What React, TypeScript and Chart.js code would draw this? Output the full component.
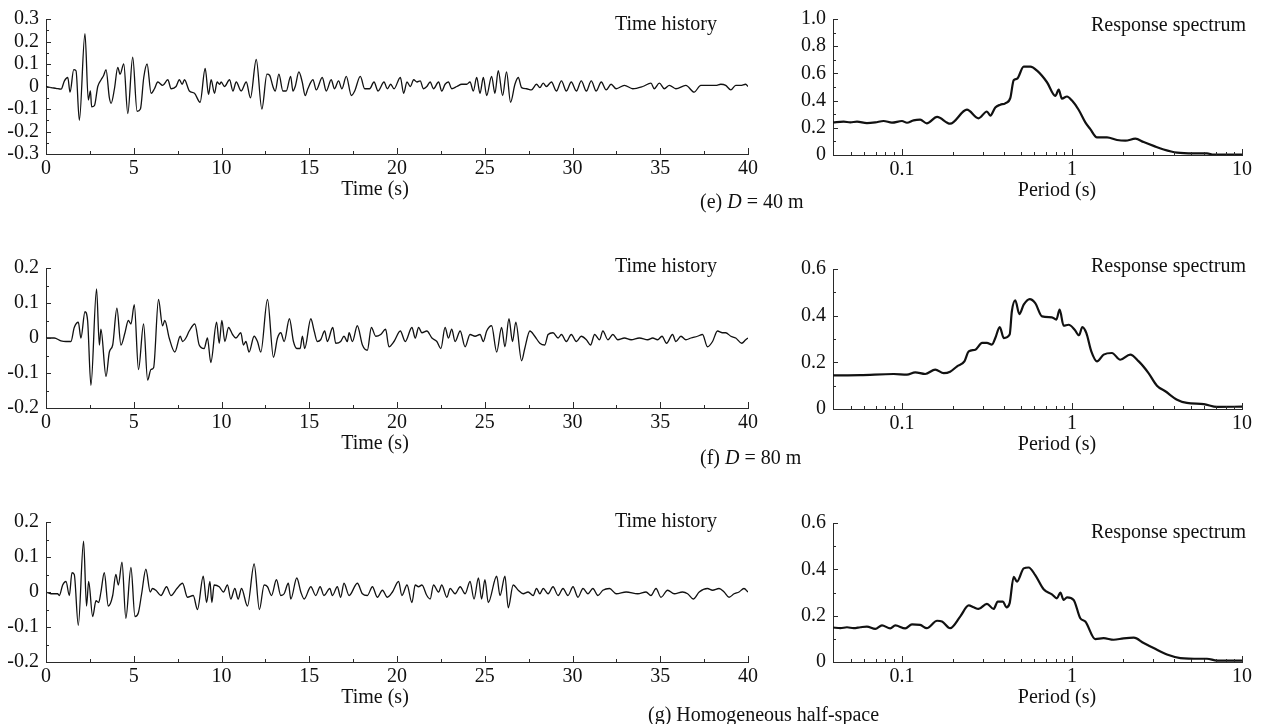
import React, { useEffect, useRef } from "react";
import { Chart, registerables } from "chart.js";

Chart.register(...registerables);

type Pt = [number, number];

const FONT = '"Liberation Serif", "Times New Roman", Times, serif';
const AXIS = "#2a2a2a";
const INK = "#111";

// ---------- data (time in s, acceleration in g) ----------
const historyE: Pt[] = [
  [0, 0], [0.29, -0.005], [0.57, -0.008], [0.86, -0.012], [1.05, 0.025], [1.24, 0.04], [1.37, -0.025],
  [1.58, 0.075], [1.71, 0.07], [1.9, -0.15], [2.22, 0.235], [2.41, -0.06], [2.53, -0.02], [2.6, -0.09],
  [2.76, -0.085], [2.95, 0.0], [3.14, 0.03], [3.29, 0.05], [3.42, 0.075], [3.61, -0.05], [3.71, -0.075],
  [3.9, -0.01], [4.09, 0.085], [4.22, 0.055], [4.43, 0.1], [4.66, -0.12], [4.94, 0.13], [5.19, -0.11],
  [5.38, -0.1], [5.57, 0.04], [5.76, 0.1], [5.99, -0.03], [6.18, -0.01], [6.37, 0.02], [6.65, 0.005],
  [6.94, 0.03], [7.13, -0.01], [7.41, 0.0], [7.6, 0.03], [7.76, 0.01], [7.89, 0.03], [8.17, -0.02],
  [8.46, -0.03], [8.78, -0.07], [9.07, 0.08], [9.26, -0.035], [9.41, 0.03], [9.6, -0.03], [9.75, 0.02],
  [9.89, 0.01], [9.98, 0.02], [10.17, 0.0], [10.46, 0.03], [10.65, -0.02], [10.84, 0.02], [11.12, -0.02],
  [11.41, 0.02], [11.65, -0.05], [11.98, 0.12], [12.3, -0.1], [12.59, 0.055], [12.74, 0.05], [12.93, 0.0],
  [13.06, -0.02], [13.27, 0.055], [13.5, -0.02], [13.69, -0.02], [13.94, 0.045], [14.07, -0.02], [14.2, 0.0],
  [14.41, 0.065], [14.6, 0.02], [14.77, -0.04], [14.92, -0.01], [15.21, 0.03], [15.4, -0.015], [15.74, 0.04],
  [15.97, -0.02], [16.25, 0.03], [16.44, -0.01], [16.67, 0.025], [16.86, -0.01], [17.11, 0.045], [17.4, -0.04],
  [17.59, -0.02], [17.91, 0.045], [18.16, -0.01], [18.44, -0.01], [18.69, 0.02], [18.92, -0.02], [19.26, 0.02],
  [19.45, -0.01], [19.64, 0.01], [19.83, -0.01], [20.19, 0.04], [20.38, -0.03], [20.57, 0.02], [20.76, 0.0],
  [20.95, 0.03], [21.14, 0.02], [21.32, 0.025], [21.51, -0.01], [21.7, 0.0], [21.89, 0.02], [22.08, -0.01],
  [22.37, 0.02], [22.55, -0.02], [22.74, 0.01], [22.93, 0.02], [23.12, -0.01], [23.41, 0.0], [23.69, 0.01],
  [23.97, 0.01], [24.16, 0.02], [24.35, -0.02], [24.54, 0.04], [24.73, -0.03], [24.92, 0.04], [25.11, -0.04],
  [25.39, 0.045], [25.58, -0.03], [25.77, 0.07], [26.02, -0.04], [26.24, 0.065], [26.47, -0.07], [26.72, 0.01],
  [26.91, 0.04], [27.1, -0.005], [27.38, -0.01], [27.66, -0.015], [27.95, 0.01], [28.14, -0.005], [28.33, 0.015],
  [28.51, 0.0], [28.8, 0.02], [29.08, -0.02], [29.37, 0.025], [29.65, -0.02], [29.93, 0.02], [30.22, -0.02],
  [30.5, 0.025], [30.79, -0.02], [31.07, 0.025], [31.35, -0.02], [31.64, 0.02], [31.92, -0.015], [32.2, 0.01],
  [32.49, -0.01], [32.96, 0.005], [33.43, -0.01], [34.0, 0.0], [34.47, 0.015], [34.66, -0.01], [34.95, 0.015],
  [35.23, -0.01], [35.52, 0.005], [35.89, -0.01], [36.46, 0.005], [36.93, -0.025], [37.31, 0.005], [37.79, 0.005],
  [38.16, 0.005], [38.45, 0.01], [38.73, 0.005], [39.02, -0.015], [39.3, 0.005], [39.58, 0.005], [39.87, 0.01],
  [40, 0.0],
];

const historyF: Pt[] = [
  [0, 0], [0.47, 0.0], [0.85, -0.008], [1.14, -0.01], [1.42, -0.01], [1.61, 0.03], [1.84, 0.045], [1.99, 0.0],
  [2.22, 0.075], [2.37, 0.05], [2.56, -0.135], [2.88, 0.14], [3.04, -0.02], [3.13, 0.025], [3.42, -0.11],
  [3.61, -0.04], [3.8, -0.02], [4.04, 0.085], [4.27, -0.02], [4.5, 0.015], [4.69, 0.05], [4.84, 0.04],
  [5.03, 0.095], [5.27, -0.09], [5.56, 0.04], [5.79, -0.12], [5.98, -0.09], [6.13, -0.085], [6.41, 0.11],
  [6.64, 0.035], [6.77, 0.05], [7.02, 0.0], [7.34, -0.04], [7.65, 0.005], [7.78, -0.01], [7.97, 0.0],
  [8.16, 0.02], [8.48, 0.04], [8.73, -0.02], [9.01, -0.03], [9.2, 0.0], [9.39, -0.07], [9.72, 0.045],
  [9.87, -0.015], [10.02, 0.05], [10.19, -0.01], [10.4, 0.03], [10.63, 0.01], [10.82, 0.0], [11.1, 0.015],
  [11.25, -0.02], [11.39, -0.01], [11.57, -0.04], [11.86, 0.005], [12.05, -0.01], [12.24, -0.04], [12.62, 0.11],
  [12.96, -0.055], [13.19, 0.0], [13.38, 0.015], [13.57, -0.01], [13.87, 0.055], [14.1, -0.01], [14.29, -0.03],
  [14.48, -0.03], [14.61, 0.005], [14.74, -0.03], [15.09, 0.055], [15.28, 0.02], [15.46, -0.01], [15.65, -0.005],
  [15.88, 0.02], [16.03, -0.01], [16.34, 0.03], [16.51, -0.015], [16.79, -0.01], [16.98, 0.005], [17.17, -0.01],
  [17.27, 0.015], [17.46, -0.01], [17.74, 0.035], [18.03, -0.02], [18.31, -0.035], [18.54, 0.03], [18.79, 0.005],
  [19.07, 0.01], [19.35, 0.025], [19.54, -0.025], [19.83, -0.01], [20.19, 0.02], [20.47, -0.01], [20.85, 0.03],
  [21.04, 0.0], [21.23, 0.03], [21.42, 0.015], [21.7, 0.02], [21.99, 0.0], [22.27, -0.01], [22.5, -0.03],
  [22.74, 0.03], [22.93, 0.0], [23.12, 0.025], [23.31, -0.01], [23.6, 0.02], [23.88, -0.025], [24.16, 0.01],
  [24.45, 0.005], [24.73, 0.01], [24.92, -0.01], [25.11, 0.02], [25.39, 0.035], [25.68, -0.04], [25.96, 0.03],
  [26.15, -0.025], [26.38, 0.055], [26.58, -0.01], [26.77, 0.045], [27.1, -0.065], [27.28, -0.03], [27.57, 0.02],
  [27.85, 0.005], [28.14, -0.015], [28.42, -0.02], [28.61, 0.01], [28.89, 0.015], [29.18, 0.0], [29.37, 0.01],
  [29.65, -0.01], [29.93, 0.01], [30.22, -0.01], [30.5, 0.005], [30.79, -0.005], [31.03, -0.02], [31.26, 0.01],
  [31.54, -0.005], [31.73, 0.02], [32.02, -0.005], [32.3, 0.01], [32.58, -0.005], [32.96, 0.0], [33.34, -0.005],
  [33.81, 0.0], [34.29, -0.005], [34.57, 0.0], [34.85, -0.005], [35.1, 0.005], [35.36, -0.015], [35.7, 0.01],
  [35.89, -0.01], [36.18, 0.005], [36.46, -0.005], [36.75, 0.0], [37.12, 0.005], [37.41, 0.01], [37.69, -0.025],
  [37.98, -0.01], [38.26, 0.02], [38.54, 0.015], [38.73, 0.015], [39.02, 0.005], [39.3, 0.0], [39.64, -0.015],
  [39.87, -0.005], [40, 0.0],
];

const historyG: Pt[] = [
  [0, 0], [0.28, -0.005], [0.66, -0.005], [0.76, -0.01], [0.95, 0.02], [1.14, 0.03], [1.33, -0.01],
  [1.48, 0.055], [1.61, 0.05], [1.84, -0.095], [2.14, 0.145], [2.31, -0.04], [2.43, 0.03], [2.66, -0.07],
  [2.85, -0.025], [3.0, -0.03], [3.13, 0.0], [3.32, 0.055], [3.55, -0.04], [3.8, -0.01], [3.98, 0.05],
  [4.12, 0.02], [4.33, 0.085], [4.55, -0.075], [4.84, 0.07], [5.07, -0.07], [5.26, -0.06], [5.45, -0.005],
  [5.69, 0.065], [5.94, 0.0], [6.07, 0.01], [6.26, 0.005], [6.55, -0.01], [6.87, 0.015], [7.12, -0.01],
  [7.46, 0.01], [7.78, 0.025], [8.06, -0.015], [8.39, -0.01], [8.63, -0.05], [8.96, 0.045], [9.15, -0.03],
  [9.34, 0.03], [9.45, -0.03], [9.58, 0.02], [9.87, 0.015], [10.11, 0.0], [10.34, 0.02], [10.53, -0.02],
  [10.76, 0.01], [10.95, -0.02], [11.14, 0.01], [11.48, -0.04], [11.86, 0.08], [12.16, -0.05], [12.43, 0.02],
  [12.62, 0.015], [12.85, -0.01], [13.13, 0.035], [13.38, -0.01], [13.57, -0.005], [13.81, 0.025], [13.95, -0.02],
  [14.29, 0.04], [14.52, 0.0], [14.71, -0.02], [15.09, 0.015], [15.37, -0.01], [15.62, 0.015], [15.84, -0.01],
  [16.17, 0.01], [16.32, -0.01], [16.6, 0.015], [16.79, -0.015], [16.98, 0.025], [17.27, -0.01], [17.74, 0.025],
  [18.03, -0.005], [18.31, -0.01], [18.6, 0.015], [18.88, -0.015], [19.17, 0.005], [19.45, -0.015], [19.74, 0.0],
  [20.09, 0.03], [20.28, -0.01], [20.57, 0.02], [20.85, -0.03], [21.04, 0.02], [21.23, 0.015], [21.42, 0.02],
  [21.7, -0.01], [21.89, -0.02], [22.08, 0.02], [22.37, 0.0], [22.55, 0.02], [22.84, -0.015], [23.03, 0.01],
  [23.31, -0.005], [23.6, 0.015], [23.88, -0.005], [24.16, 0.03], [24.39, -0.02], [24.64, 0.04], [24.82, -0.02],
  [25.01, 0.035], [25.2, -0.03], [25.68, 0.045], [25.87, -0.01], [26.15, 0.045], [26.34, -0.045], [26.62, 0.02],
  [26.91, 0.005], [27.19, -0.005], [27.47, 0.0], [27.76, -0.01], [27.95, 0.01], [28.14, -0.005], [28.33, 0.01],
  [28.61, -0.005], [28.89, 0.015], [29.18, -0.01], [29.46, 0.01], [29.74, -0.01], [30.03, 0.015], [30.31, -0.015],
  [30.6, 0.01], [30.88, -0.005], [31.16, 0.01], [31.45, -0.01], [31.73, 0.005], [32.11, 0.01], [32.49, -0.005],
  [33.06, 0.0], [33.72, -0.005], [34.19, 0.0], [34.47, -0.01], [34.76, 0.01], [35.04, -0.015], [35.42, 0.005],
  [35.8, -0.005], [36.27, 0.0], [36.56, -0.005], [36.88, -0.02], [37.22, 0.0], [37.69, 0.01], [37.98, 0.005],
  [38.35, 0.01], [38.64, 0.0], [38.92, -0.015], [39.21, -0.005], [39.49, 0.0], [39.77, 0.01], [40, 0.0],
];

// ---------- response spectra (period in s, Sa in g) ----------
const spectrumE: Pt[] = [
  [0.0393, 0.24], [0.0454, 0.245], [0.0497, 0.24], [0.0544, 0.245], [0.0622, 0.235], [0.0697, 0.24],
  [0.078, 0.25], [0.0873, 0.238], [0.1, 0.25], [0.107, 0.237], [0.117, 0.255], [0.128, 0.26], [0.14, 0.233],
  [0.161, 0.28], [0.192, 0.23], [0.241, 0.333], [0.282, 0.27], [0.316, 0.32], [0.331, 0.29], [0.354, 0.35],
  [0.379, 0.37], [0.405, 0.38], [0.434, 0.42], [0.454, 0.55], [0.475, 0.56], [0.52, 0.65], [0.569, 0.65],
  [0.623, 0.62], [0.713, 0.535], [0.798, 0.435], [0.835, 0.48], [0.873, 0.415], [0.935, 0.43], [1.0, 0.4],
  [1.094, 0.333], [1.198, 0.24], [1.282, 0.19], [1.403, 0.13], [1.607, 0.13], [1.841, 0.11], [2.06, 0.105],
  [2.36, 0.12], [2.64, 0.095], [3.02, 0.067], [3.46, 0.04], [4.15, 0.017], [5.2, 0.012], [6.22, 0.012],
  [6.81, 0.003], [10, 0.003],
];

const spectrumF: Pt[] = [
  [0.0393, 0.144], [0.0569, 0.145], [0.0893, 0.15], [0.107, 0.147], [0.1197, 0.157], [0.137, 0.15],
  [0.157, 0.169], [0.176, 0.154], [0.192, 0.16], [0.211, 0.183], [0.233, 0.204], [0.247, 0.247], [0.27, 0.254],
  [0.296, 0.283], [0.316, 0.283], [0.338, 0.276], [0.354, 0.304], [0.376, 0.351], [0.397, 0.304], [0.43, 0.319],
  [0.443, 0.419], [0.464, 0.466], [0.49, 0.407], [0.52, 0.447], [0.564, 0.471], [0.608, 0.454], [0.667, 0.397],
  [0.762, 0.393], [0.809, 0.383], [0.846, 0.426], [0.893, 0.357], [0.955, 0.361], [1.037, 0.34], [1.099, 0.316],
  [1.151, 0.351], [1.214, 0.326], [1.299, 0.247], [1.403, 0.204], [1.535, 0.233], [1.718, 0.24], [1.923, 0.211],
  [2.2, 0.233], [2.47, 0.204], [2.82, 0.154], [3.16, 0.1], [3.54, 0.076], [4.15, 0.04], [4.74, 0.026],
  [5.96, 0.021], [7.13, 0.009], [10, 0.01],
];

const spectrumG: Pt[] = [
  [0.0393, 0.149], [0.0434, 0.146], [0.0475, 0.15], [0.052, 0.146], [0.0569, 0.15], [0.0622, 0.153],
  [0.0697, 0.143], [0.0763, 0.158], [0.0853, 0.145], [0.0914, 0.158], [0.1046, 0.145], [0.1145, 0.162],
  [0.128, 0.16], [0.14, 0.146], [0.161, 0.178], [0.172, 0.175], [0.192, 0.146], [0.22, 0.196], [0.247, 0.244],
  [0.264, 0.236], [0.282, 0.229], [0.316, 0.251], [0.346, 0.229], [0.366, 0.261], [0.393, 0.261], [0.411, 0.236],
  [0.43, 0.254], [0.454, 0.368], [0.475, 0.347], [0.52, 0.404], [0.556, 0.408], [0.608, 0.375], [0.681, 0.314],
  [0.762, 0.292], [0.816, 0.275], [0.854, 0.3], [0.893, 0.268], [0.935, 0.279], [1.023, 0.268], [1.119, 0.189],
  [1.198, 0.175], [1.371, 0.099], [1.535, 0.103], [1.758, 0.096], [2.01, 0.102], [2.31, 0.105], [2.64, 0.082],
  [3.02, 0.06], [3.62, 0.032], [4.34, 0.017], [5.69, 0.014], [6.22, 0.014], [7.13, 0.006], [10, 0.006],
];

// ---------- ticks ----------
const timeMajor = [0, 5, 10, 15, 20, 25, 30, 35, 40];
const timeMinor = [2.5, 7.5, 12.5, 17.5, 22.5, 27.5, 32.5, 37.5];
const periodMajor = [0.1, 1, 10];
const periodMinor = [0.05, 0.06, 0.07, 0.08, 0.09, 0.2, 0.3, 0.4, 0.5, 0.6, 0.7, 0.8, 0.9, 2, 3, 4, 5, 6, 7, 8, 9];
const accMajor3 = [-0.3, -0.2, -0.1, 0, 0.1, 0.2, 0.3];
const accMinor3 = [-0.25, -0.15, -0.05, 0.05, 0.15, 0.25];
const accMajor2 = [-0.2, -0.1, 0, 0.1, 0.2];
const accMinor2 = [-0.15, -0.05, 0.05, 0.15];
const saMajor10 = [0, 0.2, 0.4, 0.6, 0.8, 1.0];
const saMinor10 = [0.1, 0.3, 0.5, 0.7, 0.9];
const saMajor6 = [0, 0.2, 0.4, 0.6];
const saMinor6 = [0.1, 0.3, 0.5];

interface PanelSpec {
  id: string;
  kind: "time" | "spec";
  data: Pt[];
  box: { x: number; y: number; w: number; h: number };
  area: { l: number; t: number; r: number; b: number };
  xMin: number; xMax: number; xMajor: number[]; xMinor: number[];
  yMin: number; yMax: number; yMajor: number[]; yMinor: number[];
  title: string; titleRight: number; titleY: number;
  axisTitle: string; axisTitleX: number;
  lineWidth: number;
}

const rowTops = [0, 240, 495];

function timePanel(id: string, data: Pt[], row: number, t: number, b: number, lim: number,
  yMajor: number[], yMinor: number[], titleY: number): PanelSpec {
  const top = rowTops[row];
  return {
    id, kind: "time", data,
    box: { x: 0, y: top, w: 780, h: b - top + 54 },
    area: { l: 46, t, r: 748, b },
    xMin: 0, xMax: 40, xMajor: timeMajor, xMinor: timeMinor,
    yMin: -lim, yMax: lim, yMajor, yMinor,
    title: "Time history", titleRight: 717, titleY,
    axisTitle: "Time (s)", axisTitleX: 375, lineWidth: 1.3,
  };
}

function specPanel(id: string, data: Pt[], row: number, t: number, b: number, lim: number,
  yMajor: number[], yMinor: number[], titleY: number): PanelSpec {
  const top = rowTops[row];
  return {
    id, kind: "spec", data,
    box: { x: 780, y: top, w: 508, h: b - top + 54 },
    area: { l: 833, t, r: 1242, b },
    xMin: 0.0393, xMax: 10, xMajor: periodMajor, xMinor: periodMinor,
    yMin: 0, yMax: lim, yMajor, yMinor,
    title: "Response spectrum", titleRight: 1246, titleY,
    axisTitle: "Period (s)", axisTitleX: 1057, lineWidth: 2.2,
  };
}

const panels: PanelSpec[] = [
  timePanel("tE", historyE, 0, 15, 154, 0.3, accMajor3, accMinor3, 25),
  specPanel("sE", spectrumE, 0, 15, 155, 1.0, saMajor10, saMinor10, 26),
  timePanel("tF", historyF, 1, 268, 408, 0.2, accMajor2, accMinor2, 267),
  specPanel("sF", spectrumF, 1, 269, 409, 0.6, saMajor6, saMinor6, 267),
  timePanel("tG", historyG, 2, 522, 662, 0.2, accMajor2, accMinor2, 522),
  specPanel("sG", spectrumG, 2, 523, 662, 0.6, saMajor6, saMinor6, 533),
];

const fmtY = (v: number) => (Math.abs(v) < 1e-9 ? "0" : v.toFixed(1));
const fmtX = (v: number) => String(v);

function Panel({ spec }: { spec: PanelSpec }) {
  const ref = useRef<HTMLCanvasElement | null>(null);
  useEffect(() => {
    const s = spec;
    const canvas = ref.current;
    if (!canvas) return;
    const decor = {
      id: "decor",
      afterDraw(chart: any) {
        const { ctx, chartArea: a } = chart;
        const xs = chart.scales.x;
        const ys = chart.scales.y;
        ctx.save();
        ctx.strokeStyle = AXIS;
        ctx.lineWidth = 1;
        ctx.beginPath();
        const xt = (vals: number[], len: number) =>
          vals.forEach((v) => {
            const px = Math.round(xs.getPixelForValue(v)) + 0.5;
            ctx.moveTo(px, a.bottom);
            ctx.lineTo(px, a.bottom - len);
          });
        const yt = (vals: number[], len: number) =>
          vals.forEach((v) => {
            const py = Math.round(ys.getPixelForValue(v)) + 0.5;
            ctx.moveTo(a.left, py);
            ctx.lineTo(a.left + len, py);
          });
        xt(s.xMajor, 6);
        xt(s.xMinor, 3);
        yt(s.yMajor, 5);
        yt(s.yMinor, 3);
        ctx.stroke();
        ctx.fillStyle = INK;
        ctx.font = `20px ${FONT}`;
        ctx.textBaseline = "middle";
        ctx.textAlign = "right";
        ctx.fillText(s.title, s.titleRight - s.box.x, s.titleY - s.box.y);
        ctx.textAlign = "center";
        ctx.fillText(s.axisTitle, s.axisTitleX - s.box.x, s.area.b + 36 - s.box.y);
        ctx.restore();
      },
    };
    const tickFont = { family: FONT, size: 20 };
    const chart = new Chart(canvas, {
      type: "line",
      data: {
        datasets: [
          {
            data: s.data.map(([x, y]) => ({ x, y })),
            borderColor: INK,
            borderWidth: s.lineWidth,
            pointRadius: 0,
            fill: false,
            cubicInterpolationMode: "monotone",
          } as any,
        ],
      },
      options: {
        animation: false,
        responsive: false,
        maintainAspectRatio: false,
        devicePixelRatio: 1,
        events: [],
        layout: {
          padding: {
            left: 0,
            top: s.area.t - s.box.y,
            right: s.box.x + s.box.w - s.area.r,
            bottom: 0,
          },
        },
        plugins: { legend: { display: false }, tooltip: { enabled: false }, title: { display: false } },
        scales: {
          x: {
            type: s.kind === "time" ? "linear" : "logarithmic",
            position: "bottom",
            min: s.xMin,
            max: s.xMax,
            grid: { display: false, drawTicks: false },
            border: { display: true, color: AXIS, width: 1 },
            ticks: {
              autoSkip: false,
              maxRotation: 0,
              minRotation: 0,
              padding: 3,
              color: INK,
              font: tickFont,
              callback: (v: any) => fmtX(Number(v)),
            },
            afterBuildTicks: (scale: any) => {
              scale.ticks = s.xMajor.map((v) => ({ value: v }));
            },
            afterFit: (scale: any) => {
              scale.height = s.box.y + s.box.h - s.area.b;
            },
          } as any,
          y: {
            type: "linear",
            position: "left",
            min: s.yMin,
            max: s.yMax,
            grid: { display: false, drawTicks: false },
            border: { display: true, color: AXIS, width: 1 },
            ticks: {
              autoSkip: false,
              padding: 7,
              color: INK,
              font: tickFont,
              callback: (v: any) => fmtY(Number(v)),
            },
            afterBuildTicks: (scale: any) => {
              scale.ticks = s.yMajor.map((v) => ({ value: v }));
            },
            afterFit: (scale: any) => {
              scale.width = s.area.l - s.box.x;
            },
          } as any,
        },
      } as any,
      plugins: [decor],
    });
    return () => chart.destroy();
  }, [spec]);
  return (
    <canvas
      ref={ref}
      width={spec.box.w}
      height={spec.box.h}
      style={{
        position: "absolute",
        left: spec.box.x,
        top: spec.box.y,
        width: spec.box.w,
        height: spec.box.h,
      }}
    />
  );
}

const captionStyle = (left: number, cy: number): React.CSSProperties => ({
  position: "absolute",
  left,
  top: cy - 12,
  fontFamily: FONT,
  fontSize: 20,
  lineHeight: "24px",
  color: INK,
  whiteSpace: "nowrap",
});

export default function App() {
  return (
    <div
      style={{
        position: "absolute",
        left: 0,
        top: 0,
        width: 1288,
        height: 724,
        background: "#fff",
        overflow: "hidden",
      }}
    >
      {panels.map((p) => (
        <Panel key={p.id} spec={p} />
      ))}
      <div style={captionStyle(700, 201)}>
        (e) <i>D</i> = 40 m
      </div>
      <div style={captionStyle(700, 457)}>
        (f) <i>D</i> = 80 m
      </div>
      <div style={captionStyle(648, 714)}>(g) Homogeneous half-space</div>
    </div>
  );
}
